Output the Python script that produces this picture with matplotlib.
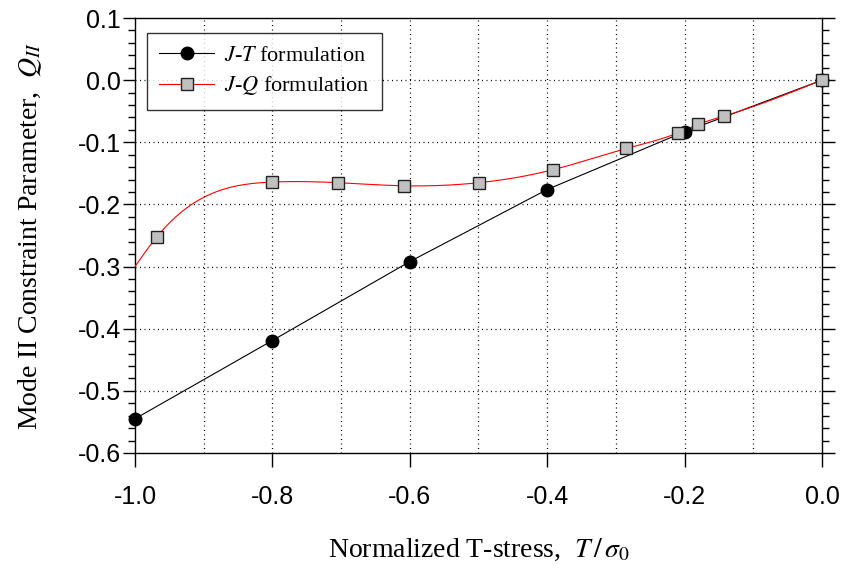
import numpy as np
import matplotlib
matplotlib.use("Agg")
import matplotlib.pyplot as plt
from matplotlib.ticker import MultipleLocator, FuncFormatter

plt.rcParams['mathtext.fontset'] = 'stix'

# J-T formulation (black circles)
jt_x = [-1.0, -0.8, -0.6, -0.4, -0.2, 0.0]
jt_y = [-0.545, -0.419, -0.292, -0.176, -0.083, 0.0]

# J-Q formulation (grey squares)
jq_x = [-0.968, -0.80, -0.705, -0.609, -0.499, -0.391, -0.285, -0.210, -0.180, -0.143, 0.0]
jq_y = [-0.252, -0.164, -0.165, -0.170, -0.165, -0.144, -0.110, -0.085, -0.071, -0.058, 0.0]

# where the red fitted curve meets the left axis
jq_curve_start = (-1.0, -0.30)


def natural_spline(xk, yk, xs):
    xk = np.asarray(xk, float)
    yk = np.asarray(yk, float)
    n = len(xk)
    h = np.diff(xk)
    A = np.zeros((n, n))
    b = np.zeros(n)
    A[0, 0] = 1
    A[-1, -1] = 1
    for i in range(1, n - 1):
        A[i, i - 1] = h[i - 1]
        A[i, i] = 2 * (h[i - 1] + h[i])
        A[i, i + 1] = h[i]
        b[i] = 3 * ((yk[i + 1] - yk[i]) / h[i] - (yk[i] - yk[i - 1]) / h[i - 1])
    c = np.linalg.solve(A, b)
    out = np.empty_like(xs)
    for j, xv in enumerate(xs):
        i = min(max(np.searchsorted(xk, xv) - 1, 0), n - 2)
        dx = xv - xk[i]
        bb = (yk[i + 1] - yk[i]) / h[i] - h[i] * (2 * c[i] + c[i + 1]) / 3
        d = (c[i + 1] - c[i]) / (3 * h[i])
        out[j] = yk[i] + bb * dx + c[i] * dx ** 2 + d * dx ** 3
    return out


def fmt(v, pos):
    return f'{round(v, 1) + 0.0:.1f}'


fig = plt.figure(figsize=(8.43, 5.68), dpi=100)
ax = fig.add_axes([0.1601, 0.2025, 0.815, 0.7658])

ax.set_xlim(-1.0, 0.0)
ax.set_ylim(-0.6, 0.1)

ax.xaxis.set_major_locator(MultipleLocator(0.2))
ax.xaxis.set_minor_locator(MultipleLocator(0.1))
ax.yaxis.set_major_locator(MultipleLocator(0.1))
ax.yaxis.set_minor_locator(MultipleLocator(0.02))
ax.xaxis.set_major_formatter(FuncFormatter(fmt))
ax.yaxis.set_major_formatter(FuncFormatter(fmt))

# dotted grid every 0.1 both ways
gx = np.arange(-0.9, -0.05, 0.1)
gy = np.arange(-0.5, 0.05, 0.1)
for v in gx:
    ax.axvline(v, color='black', lw=0.9, dashes=(0.8, 2.8), zorder=1)
for v in gy:
    ax.axhline(v, color='black', lw=0.9, dashes=(0.8, 2.8), zorder=1)

# curves
ax.plot(jt_x, jt_y, color='black', lw=0.8, zorder=3)
ax.plot(jt_x, jt_y, 'o', color='black', ms=9, zorder=4, clip_on=False)

kx = [jq_curve_start[0]] + jq_x
ky = [jq_curve_start[1]] + jq_y
xs = np.linspace(kx[0], kx[-1], 400)
ax.plot(xs, natural_spline(kx, ky, xs), color='red', lw=0.8, zorder=3)
ax.plot(jq_x, jq_y, 's', mfc='#c0c0c0', mec='#222222', mew=1.0, ms=8,
        zorder=5, clip_on=False)

# legend
h1, = ax.plot([], [], color='black', lw=0.8, marker='o', ms=9)
h2, = ax.plot([], [], color='red', lw=0.8, marker='s', mfc='#c0c0c0',
              mec='#222222', mew=1.0, ms=8)
leg = ax.legend([h1, h2], [r'$J$-$T$ formulation', r'$J$-$Q$ formulation'],
                loc='upper left', bbox_to_anchor=(0.017, 0.966), borderaxespad=0,
                frameon=True, fancybox=False, numpoints=1, handlelength=2.5,
                handletextpad=0.45, labelspacing=0.4, borderpad=0.55,
                prop={'family': 'Liberation Serif', 'size': 16})
leg.get_frame().set_edgecolor('black')
leg.get_frame().set_linewidth(1.0)
leg.set_zorder(6)

# spines & ticks
for s in ax.spines.values():
    s.set_linewidth(1.0)
ax.tick_params(axis='x', which='major', direction='out', length=10, width=1.0,
               top=False, bottom=True, pad=13)
ax.tick_params(axis='x', which='minor', length=0)
ax.tick_params(axis='y', which='major', direction='out', length=9, width=1.0,
               left=True, right=True, pad=1)
ax.tick_params(axis='y', which='minor', direction='out', length=5, width=1.0,
               left=True, right=True)
for lab in ax.get_xticklabels() + ax.get_yticklabels():
    lab.set_family('Liberation Sans')
    lab.set_fontsize(18)

ax.set_xlabel(r'Normalized T-stress,  $T\,/\,\sigma_{\mathit{0}}$',
              family='Liberation Serif', fontsize=20, labelpad=20)
ax.set_ylabel(r'Mode II Constraint Parameter,  $Q_{II}$',
              family='Liberation Serif', fontsize=20, labelpad=24)

fig.savefig('out.png', dpi=100)
